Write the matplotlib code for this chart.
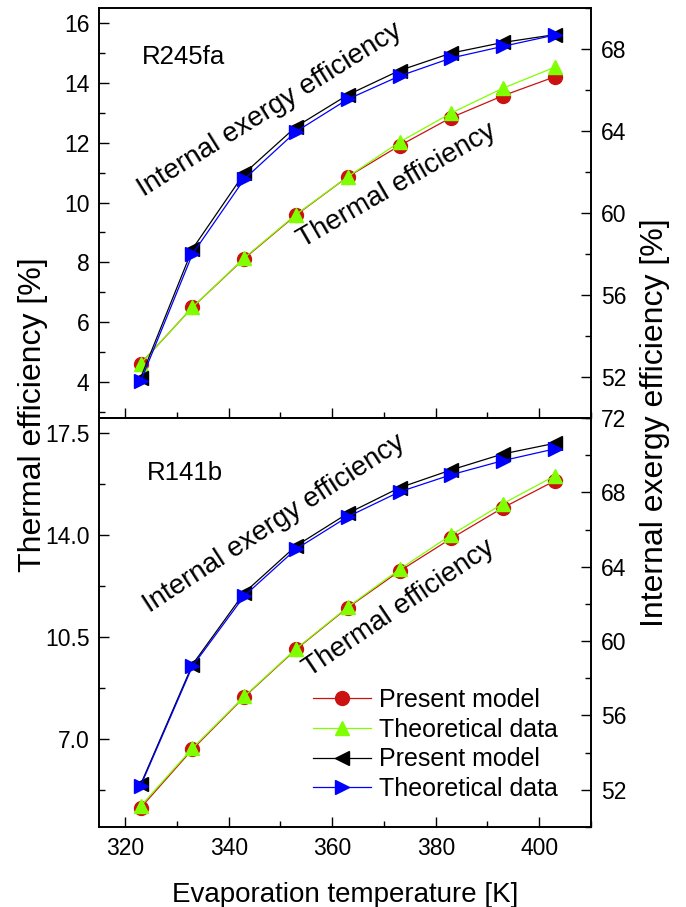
import matplotlib
matplotlib.use("Agg")
import matplotlib.pyplot as plt
from matplotlib.ticker import MultipleLocator, FormatStrFormatter

plt.rcParams['font.family'] = ['Liberation Sans', 'DejaVu Sans']

# Evaporation temperature [K]
T = [323, 333, 343, 353, 363, 373, 383, 393, 403]

# R245fa
r245_th_model = [4.62, 6.50, 8.13, 9.58, 10.86, 11.90, 12.84, 13.57, 14.20]
r245_th_theory = [4.62, 6.50, 8.15, 9.60, 10.86, 12.02, 12.99, 13.82, 14.52]
r245_ex_model = [51.97, 58.25, 61.93, 64.21, 65.76, 66.95, 67.80, 68.32, 68.70]
r245_ex_theory = [51.80, 58.00, 61.65, 63.97, 65.55, 66.68, 67.56, 68.13, 68.68]

# R141b
r141_th_model = [4.66, 6.66, 8.45, 10.08, 11.51, 12.76, 13.88, 14.93, 15.85]
r141_th_theory = [4.72, 6.70, 8.47, 10.10, 11.53, 12.82, 14.00, 15.07, 16.02]
r141_ex_model = [52.30, 58.74, 62.60, 65.12, 66.87, 68.25, 69.21, 70.07, 70.64]
r141_ex_theory = [52.23, 58.65, 62.43, 64.95, 66.69, 68.03, 68.95, 69.71, 70.34]

RED = '#cc1111'
GREEN = '#7fff00'
BLUE = '#0000ff'
BLACK = '#000000'

fig = plt.figure(figsize=(6.86, 9.07), dpi=100)
left, width = 0.1448, 0.7167
ax_top = fig.add_axes([left, 0.5391, width, 0.4521])
ax_bot = fig.add_axes([left, 0.0882, width, 0.4509])


def style_axis(ax, labelbottom):
    for s in ax.spines.values():
        s.set_linewidth(1.2)
    ax.tick_params(which='major', direction='in', length=7, width=1.0,
                   labelsize=16.5, pad=7)
    ax.tick_params(which='minor', direction='in', length=4, width=1.0)
    ax.tick_params(axis='x', top=False, which='both', labelbottom=labelbottom)


def draw_panel(ax, th_model, th_theory, ex_model, ex_theory,
               ylim_l, ylim_r, lmaj, lmin, lfmt):
    ax.plot(T, th_model, '-o', color=RED, lw=0.9, ms=10, zorder=3,
            label='Present model')
    ax.plot(T, th_theory, '-^', color=GREEN, lw=0.9, ms=10, zorder=4,
            label='Theoretical data')
    ax.set_xlim(315, 410)
    ax.set_ylim(*ylim_l)
    ax.xaxis.set_major_locator(MultipleLocator(20))
    ax.xaxis.set_minor_locator(MultipleLocator(10))
    ax.yaxis.set_major_locator(MultipleLocator(lmaj))
    ax.yaxis.set_minor_locator(MultipleLocator(lmin))
    ax.yaxis.set_major_formatter(FormatStrFormatter(lfmt))

    ax2 = ax.twinx()
    ax2.plot(T, ex_model, '-<', color=BLACK, lw=0.9, ms=10, zorder=3,
             label='Present model')
    ax2.plot(T, ex_theory, '->', color=BLUE, lw=0.9, ms=10, zorder=4,
             label='Theoretical data')
    ax2.set_ylim(*ylim_r)
    ax2.yaxis.set_major_locator(MultipleLocator(4))
    ax2.yaxis.set_minor_locator(MultipleLocator(2))
    return ax2


ax_top2 = draw_panel(ax_top, r245_th_model, r245_th_theory, r245_ex_model,
                     r245_ex_theory, (2.8, 16.5), (50, 70), 2, 1, '%d')
ax_bot2 = draw_panel(ax_bot, r141_th_model, r141_th_theory, r141_ex_model,
                     r141_ex_theory, (4, 18), (50, 72), 3.5, 1.75, '%.1f')

for a in (ax_top, ax_top2):
    style_axis(a, labelbottom=False)
for a in (ax_bot, ax_bot2):
    style_axis(a, labelbottom=True)

# panel annotations
ax_top.text(0.086, 0.863, 'R245fa', transform=ax_top.transAxes, fontsize=18.5)
ax_bot.text(0.096, 0.848, 'R141b', transform=ax_bot.transAxes, fontsize=18.5)

ax_top.text(0.0895, 0.540, 'Internal exergy efficiency', transform=ax_top.transAxes,
            fontsize=20, rotation=32, rotation_mode='anchor',
            ha='left', va='baseline')
ax_top.text(0.415, 0.414, 'Thermal efficiency', transform=ax_top.transAxes,
            fontsize=20, rotation=30, rotation_mode='anchor',
            ha='left', va='baseline')
ax_bot.text(0.103, 0.5225, 'Internal exergy efficiency', transform=ax_bot.transAxes,
            fontsize=20, rotation=33, rotation_mode='anchor',
            ha='left', va='baseline')
ax_bot.text(0.428, 0.367, 'Thermal efficiency', transform=ax_bot.transAxes,
            fontsize=20, rotation=34, rotation_mode='anchor',
            ha='left', va='baseline')

# legend with both y axes' series
h1, l1 = ax_bot.get_legend_handles_labels()
h2, l2 = ax_bot2.get_legend_handles_labels()
ax_bot2.legend(h1 + h2, l1 + l2, loc='upper left', bbox_to_anchor=(0.435, 0.34),
               frameon=False, fontsize=18, numpoints=1, handlelength=2.3,
               handletextpad=0.33, labelspacing=0.23, borderpad=0,
               borderaxespad=0)

fig.text(0.503, 0.006, 'Evaporation temperature [K]', ha='center',
         va='baseline', fontsize=20)
fig.text(0.048, 0.543, 'Thermal efficiency [%]', rotation=90, ha='center',
         va='center', fontsize=23)
fig.text(0.955, 0.534, 'Internal exergy efficiency [%]', rotation=90,
         ha='center', va='center', fontsize=23)

fig.savefig('out.png', dpi=100)
